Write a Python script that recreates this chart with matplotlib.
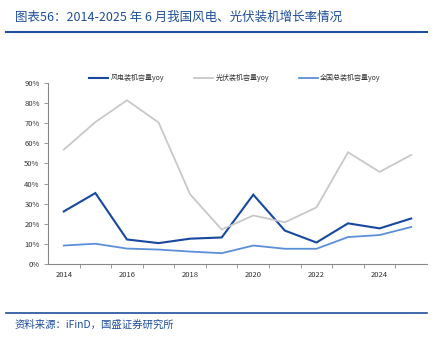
import matplotlib
matplotlib.use("Agg")
import matplotlib.pyplot as plt
from matplotlib.lines import Line2D
from matplotlib.ticker import FuncFormatter

plt.rcParams['font.family'] = ['Noto Sans CJK SC', 'DejaVu Sans']

years = list(range(2014, 2026))
wind_yoy = [26.2, 35.3, 12.3, 10.5, 12.7, 13.3, 34.5, 16.7, 10.8, 20.3, 17.8, 22.7]
solar_yoy = [56.8, 70.5, 81.3, 70.3, 34.7, 17.2, 24.2, 20.8, 28.2, 55.5, 45.8, 54.2]
total_yoy = [9.3, 10.2, 7.8, 7.3, 6.3, 5.5, 9.3, 7.7, 7.7, 13.5, 14.5, 18.5]
series_names = ['风电装机容量yoy', '光伏装机容量yoy', '全国总装机容量yoy']
title = '图表56：2014-2025 年 6 月我国风电、光伏装机增长率情况'
source = '资料来源：iFinD，国盛证券研究所'

W, H = 442, 347
fig = plt.figure(figsize=(W / 100, H / 100), dpi=100)
ax = fig.add_axes([48 / W, 1 - 264.3 / H, (427 - 48) / W, (264.3 - 82.7) / H])

x = list(range(len(years)))
colors = ['#1748a0', '#c8c8c8', '#5b8fd8']
lws = [1.5, 1.3, 1.3]
for vals, c, lw, name in zip([wind_yoy, solar_yoy, total_yoy], colors, lws, series_names):
    ax.plot(x, [v / 100 for v in vals], color=c, lw=lw, label=name, solid_joinstyle='miter')

ax.set_xlim(-0.5, len(years) - 0.5)
ax.set_ylim(0, 0.9)
ax.set_yticks([i / 10 for i in range(10)])
ax.yaxis.set_major_formatter(FuncFormatter(lambda v, p: f'{v*100:.0f}%'))
ax.set_xticks(x[::2])
ax.set_xticklabels([str(y) for y in years[::2]])
ax.set_xticks([i + 0.5 for i in range(len(years) - 1)], minor=True)
ax.tick_params(axis='x', which='major', length=0, pad=5, labelsize=5.5, colors='#333333')
ax.tick_params(axis='x', which='minor', length=3, width=0.6, color='#888888')
ax.tick_params(axis='y', which='major', length=3, width=0.6, color='#888888', labelsize=5.5, labelcolor='#333333', pad=3)
for s in ['top', 'right']:
    ax.spines[s].set_visible(False)
for s in ['left', 'bottom']:
    ax.spines[s].set_color('#888888')
    ax.spines[s].set_linewidth(0.8)

leg = ax.legend(loc='lower left', bbox_to_anchor=(0.095, 0.975), ncol=3, frameon=False,
                fontsize=5, handlelength=2.8, columnspacing=4.3, handletextpad=0.3,
                borderpad=0.2)
for t in leg.get_texts():
    t.set_color('#333333')

fig.text(15 / W, 1 - 17 / H, title, fontsize=9, color='#1f4e9a', va='center', ha='left')
fig.add_artist(Line2D([6 / W, 427 / W], [1 - 32 / H, 1 - 32 / H], color='#1f4e9a', lw=1.5))
fig.add_artist(Line2D([6 / W, 427 / W], [1 - 313 / H, 1 - 313 / H], color='#1f4e9a', lw=1.2))
fig.text(15 / W, 1 - 325 / H, source, fontsize=7.5, color='#1f4e9a', va='center', ha='left')

fig.savefig('out.png', dpi=100)
